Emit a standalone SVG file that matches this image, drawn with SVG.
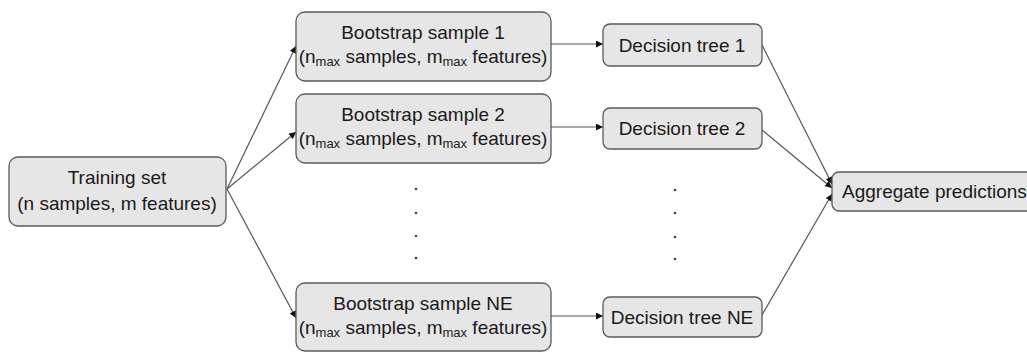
<svg xmlns="http://www.w3.org/2000/svg" width="1027" height="352" viewBox="0 0 1027 352">
<style>
.box{fill:#e6e6e6;stroke:#5a5a5a;stroke-width:1.3}
.t{font-family:"Liberation Sans",Arial,sans-serif;font-size:19px;fill:#1a1a1a;text-anchor:middle}
.sub{font-size:13px}
.c{stroke:#555;stroke-width:1.2;fill:none;marker-end:url(#ah)}
.dot{fill:#444}
</style>
<defs>
<marker id="ah" viewBox="0 0 10 10" refX="10" refY="5" markerWidth="7" markerHeight="7" markerUnits="userSpaceOnUse" orient="auto">
<path d="M0,0 L10,5 L0,10 z" fill="#111"/>
</marker>
</defs>
<g id="connectors">
<line class="c" x1="227" y1="189" x2="296" y2="46"/>
<line class="c" x1="227" y1="189" x2="296" y2="132"/>
<line class="c" x1="227" y1="189" x2="296" y2="318"/>
<line class="c" x1="551" y1="44" x2="603" y2="44"/>
<line class="c" x1="551" y1="127" x2="603" y2="127"/>
<line class="c" x1="551" y1="316" x2="603" y2="316"/>
<line class="c" x1="762" y1="45" x2="832" y2="184"/>
<line class="c" x1="762" y1="130" x2="832" y2="188"/>
<line class="c" x1="762" y1="315" x2="832" y2="194"/>
</g>
<g id="training">
<rect class="box" x="9" y="157" width="217" height="69" rx="9"/>
<text class="t" x="117" y="184">Training set</text>
<text class="t" x="117" y="210">(n samples, m features)</text>
</g>
<g id="bootstrap1">
<rect class="box" x="296" y="12" width="255" height="69" rx="9"/>
<text class="t" x="423" y="39">Bootstrap sample 1</text>
<text class="t" x="423" y="63">(n<tspan class="sub" dy="3">max</tspan><tspan dy="-3"> samples, m</tspan><tspan class="sub" dy="3">max</tspan><tspan dy="-3"> features)</tspan></text>
</g>
<g id="bootstrap2">
<rect class="box" x="296" y="94" width="255" height="69" rx="9"/>
<text class="t" x="423" y="121">Bootstrap sample 2</text>
<text class="t" x="423" y="145">(n<tspan class="sub" dy="3">max</tspan><tspan dy="-3"> samples, m</tspan><tspan class="sub" dy="3">max</tspan><tspan dy="-3"> features)</tspan></text>
</g>
<g id="bootstrapNE">
<rect class="box" x="296" y="283" width="255" height="68" rx="9"/>
<text class="t" x="423" y="310">Bootstrap sample NE</text>
<text class="t" x="423" y="334">(n<tspan class="sub" dy="3">max</tspan><tspan dy="-3"> samples, m</tspan><tspan class="sub" dy="3">max</tspan><tspan dy="-3"> features)</tspan></text>
</g>
<g id="tree1">
<rect class="box" x="603" y="24" width="159" height="42" rx="7"/>
<text class="t" x="682" y="52">Decision tree 1</text>
</g>
<g id="tree2">
<rect class="box" x="603" y="108" width="159" height="41" rx="7"/>
<text class="t" x="682" y="135">Decision tree 2</text>
</g>
<g id="treeNE">
<rect class="box" x="603" y="297" width="159" height="40" rx="7"/>
<text class="t" x="682" y="324">Decision tree NE</text>
</g>
<g id="aggregate">
<rect class="box" x="832" y="172" width="210" height="39" rx="7"/>
<text class="t" x="842" y="198" style="text-anchor:start">Aggregate predictions</text>
</g>
<g id="dots">
<circle class="dot" cx="416" cy="189" r="1.3"/>
<circle class="dot" cx="416" cy="213" r="1.3"/>
<circle class="dot" cx="416" cy="236" r="1.3"/>
<circle class="dot" cx="416" cy="258" r="1.3"/>
<circle class="dot" cx="675" cy="190" r="1.3"/>
<circle class="dot" cx="675" cy="213" r="1.3"/>
<circle class="dot" cx="675" cy="237" r="1.3"/>
<circle class="dot" cx="675" cy="259" r="1.3"/>
</g>
</svg>
